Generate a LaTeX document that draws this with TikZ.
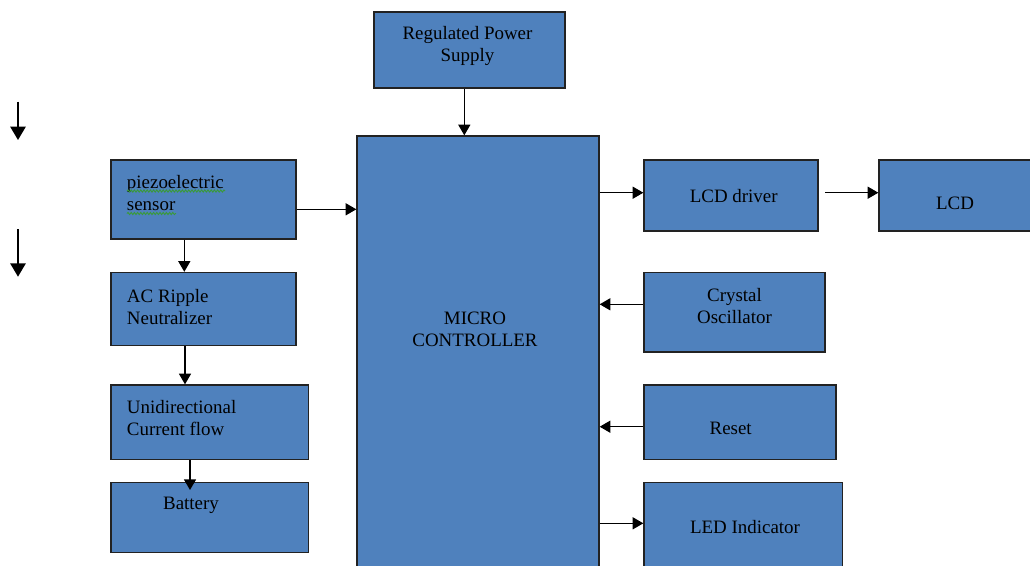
\documentclass[tikz,border=0pt]{standalone}
\usepackage{fontspec}
\setmainfont{Liberation Serif}
\usetikzlibrary{arrows.meta,decorations.pathmorphing,fit}
\definecolor{boxblue}{HTML}{4F81BD}
\definecolor{boxedge}{HTML}{222222}
\definecolor{spellgreen}{HTML}{3A9A3A}
\begin{document}
\begin{tikzpicture}[x=0.75pt,y=-0.75pt,
  blk/.style={draw=boxedge,fill=boxblue,line width=1pt,inner sep=0pt,rectangle},
  txt/.style={font=\fontsize{14.2}{16.5}\selectfont,text=black,inner sep=0pt},
  arr/.style={-{Triangle[length=8pt,width=9pt]},line width=1pt,draw=black},
  bigarr/.style={-{Triangle[length=10pt,width=11.5pt]},line width=1.2pt,draw=black},
  squiggle/.style={draw=spellgreen,line width=0.7pt,decorate,decoration={snake,amplitude=0.8pt,segment length=2.4pt}}]
\useasboundingbox (0,0) rectangle (1030,565);
\clip (0,0) rectangle (1030,565);

% boxes
\node[blk,fit={(374,12) (565,88)}] (rps) {};
\node[blk,fit={(357,136) (599,640)}] (mc) {};
\node[blk,fit={(111,160) (296,239)}] (piezo) {};
\node[blk,fit={(111,272.5) (296,345.5)}] (acr) {};
\node[blk,fit={(111,385) (308.5,459.5)}] (uni) {};
\node[blk,fit={(111,482.5) (308.5,552.5)}] (bat) {};
\node[blk,fit={(644,160) (818,231)}] (lcdd) {};
\node[blk,fit={(879,160) (1100,231)}] (lcd) {};
\node[blk,fit={(644,272.5) (825,352)}] (xtal) {};
\node[blk,fit={(644,385) (836,459.5)}] (rst) {};
\node[blk,fit={(644,482.5) (842.5,640)}] (led) {};

% texts
\node[txt,align=center] (trps) at (467.5,46) {Regulated Power\\Supply};
\node[txt,align=center] (tmc) at (475,329) {MICRO\\CONTROLLER};
\node[txt,align=left,anchor=west] (tpiezo) at (126.7,193) {piezoelectric\\sensor};
\node[txt,align=left,anchor=west] (tacr) at (126.7,307) {AC Ripple\\Neutralizer};
\node[txt,align=left,anchor=west] (tuni) at (126.7,418) {Unidirectional\\Current flow};
\node[txt] (tbat) at (191,505) {Battery};
\node[txt] (tlcdd) at (733.7,196) {LCD driver};
\node[txt] (tlcd) at (955,203) {LCD};
\node[txt,align=center] (txtal) at (734.5,306) {Crystal\\Oscillator};
\node[txt] (trst) at (730.7,428) {Reset};
\node[txt] (tled) at (745,527) {LED Indicator};

% spell-check underlines
\coordinate (u1a) at (127,191); \coordinate (u1b) at (225,191);
\coordinate (u2a) at (127,213.5); \coordinate (u2b) at (176,213.5);
\draw[squiggle] (u1a) -- (u1b);
\draw[squiggle] (u2a) -- (u2b);

% connector levels
\coordinate (xrps) at (464.3,0);
\coordinate (ypz) at (0,209.3);
\coordinate (xpz) at (184.3,0);
\coordinate (xac) at (185,0);
\coordinate (xuni) at (190,0);
\coordinate (batin) at (190,490);
\coordinate (ylcd) at (0,192.7);
\coordinate (lcdstart) at (825.3,192.7);
\coordinate (yxt) at (0,304.3);
\coordinate (yrst) at (0,426.7);
\coordinate (yled) at (0,523.3);

\draw[arr] (rps.south -| xrps) -- (mc.north -| xrps);
\draw[arr] (piezo.east |- ypz) -- (mc.west |- ypz);
\draw[arr] (piezo.south -| xpz) -- (acr.north -| xpz);
\draw[arr] (acr.south -| xac) -- (uni.north -| xac);
\draw[arr] (uni.south -| xuni) -- (batin);
\draw[arr] (mc.east |- ylcd) -- (lcdd.west |- ylcd);
\draw[arr] (lcdstart) -- (lcd.west |- ylcd);
\draw[arr] (xtal.west |- yxt) -- (mc.east |- yxt);
\draw[arr] (rst.west |- yrst) -- (mc.east |- yrst);
\draw[arr] (mc.east |- yled) -- (led.west |- yled);

% stray arrows at left
\coordinate (s1a) at (18,101.7); \coordinate (s1b) at (18,140);
\coordinate (s2a) at (18,229); \coordinate (s2b) at (18,276.7);
\draw[bigarr] (s1a) -- (s1b);
\draw[bigarr] (s2a) -- (s2b);
\end{tikzpicture}
\end{document}
